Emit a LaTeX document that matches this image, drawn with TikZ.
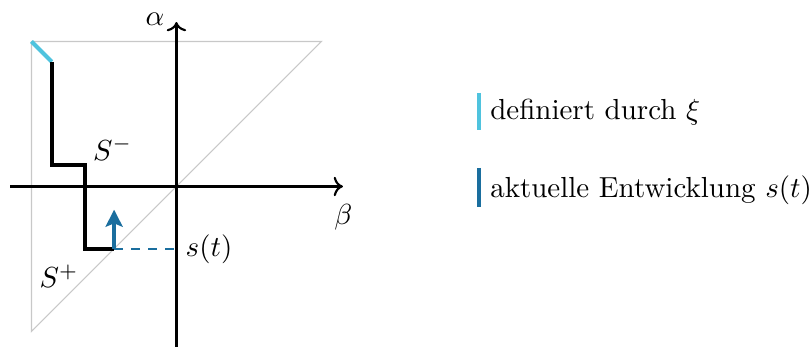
\documentclass[tikz,border=0pt]{standalone}
\usepackage{xcolor}
\definecolor{xicyan}{HTML}{4FC3DE}
\definecolor{stblue}{HTML}{1A6E9E}
\definecolor{trigray}{HTML}{C8C8C8}
\usepackage{tikz}
\usetikzlibrary{arrows.meta}

\begin{document}
\begin{tikzpicture}[x=51pt,y=51pt,every node/.style={inner sep=2pt,scale=1.02}]
\useasboundingbox (-1.217,-1.121) rectangle (4.376,1.286);
% Dreieck und Achsen
\coordinate (O) at (0,0);
\coordinate (TL) at (-1,1);
\coordinate (TR) at (1,1);
\coordinate (BL) at (-1,-1);
\draw[trigray,line width=0.4pt] (TL) -- (TR) -- (BL) -- cycle;
\coordinate (xl) at (-1.148,0);
\coordinate (xr) at (1.148,0);
\coordinate (yb) at (0,-1.107);
\coordinate (yt) at (0,1.134);
\draw[->,line width=0.75pt] (xl) -- (xr);
\draw[->,line width=0.75pt] (yb) -- (yt);
\node[anchor=east] (alpha) at (-0.04,1.15) {$\alpha$};
\node[anchor=north] (beta) at (1.15,-0.08) {$\beta$};
% Pfad
\coordinate (P0) at (-0.86,0.86);
\coordinate (P1) at (-0.86,0.148);
\coordinate (P2) at (-0.63,0.148);
\coordinate (P3) at (-0.63,-0.43);
\coordinate (P4) at (-0.43,-0.43);
\coordinate (P5) at (-0.43,-0.16);
\coordinate (Q) at (0,-0.43);
\draw[xicyan,line width=1.4pt] (TL) -- (P0);
\draw[black,line width=1.4pt] (P0) -- (P1) -- (P2) -- (P3) -- (P4);
\draw[stblue,dashed,line width=0.7pt] (P4) -- (Q);
\draw[-{Stealth[length=6pt,width=6pt,inset=1.2pt]},stblue,line width=1.4pt] (P4) -- (P5);
\node (sminus) at (-0.44,0.26) {$S^-$};
\node (splus) at (-0.81,-0.62) {$S^+$};
\node[anchor=west] (st) at (0.02,-0.43) {$s(t)$};
% Legende
\node[anchor=west] (lxi) at (2.12,0.51) {definiert durch $\xi$};
\node[anchor=west] (ls) at (2.12,-0.025) {aktuelle Entwicklung $s(t)$};
\draw[xicyan,line width=1.5pt] (2.086,0.645) -- (2.086,0.39);
\draw[stblue,line width=1.5pt] (2.086,0.128) -- (2.086,-0.141);
\end{tikzpicture}
\end{document}
